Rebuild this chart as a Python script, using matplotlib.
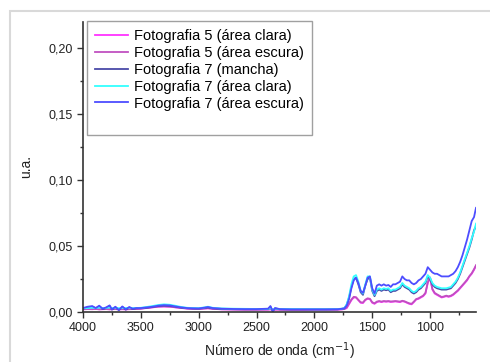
import numpy as np
import matplotlib
matplotlib.use("agg")
import matplotlib.pyplot as plt
from matplotlib.patches import Rectangle
from matplotlib.ticker import MultipleLocator, FuncFormatter

plt.rcParams['font.family'] = ['Liberation Sans', 'DejaVu Sans']

# wavenumber grids (cm-1)
wn_low = [4000, 3960, 3920, 3890, 3860, 3830, 3800, 3770, 3750, 3720,
          3690, 3660, 3630, 3600, 3570, 3540, 3500, 3450, 3400, 3350,
          3300, 3250, 3200, 3150, 3100, 3050, 3000, 2950, 2920, 2880,
          2800, 2700, 2600, 2500, 2400, 2380, 2360, 2340, 2300, 2200,
          2100, 2000, 1900, 1800, 1760]
wn_high = [1740, 1720, 1700, 1680, 1660, 1640, 1620, 1600, 1580, 1560,
           1540, 1520, 1500, 1480, 1460, 1440, 1420, 1400, 1380, 1360,
           1340, 1320, 1300, 1280, 1260, 1240, 1220, 1200, 1180, 1160,
           1140, 1120, 1100, 1080, 1060, 1040, 1020, 1000, 980, 960,
           940, 920, 900, 880, 860, 840, 820, 800, 780, 760,
           740, 720, 700, 680, 660, 640, 620, 603]

# Fotografia 5 (area clara)
f5c_low = [0.0020, 0.0022, 0.0021, 0.0023, 0.0020, 0.0021, 0.0022, 0.0020, 0.0021, 0.0022,
           0.0020, 0.0021, 0.0020, 0.0021, 0.0022, 0.0023, 0.0025, 0.0030, 0.0035, 0.0040,
           0.0042, 0.0040, 0.0035, 0.0030, 0.0026, 0.0024, 0.0023, 0.0026, 0.0028, 0.0024,
           0.0020, 0.0019, 0.0018, 0.0018, 0.0018, 0.0020, 0.0016, 0.0018, 0.0018, 0.0017,
           0.0017, 0.0017, 0.0017, 0.0018, 0.0020]
f5c_high = [0.0022, 0.0030, 0.0060, 0.0090, 0.0110, 0.0110, 0.0090, 0.0070, 0.0068, 0.0090,
            0.0100, 0.0098, 0.0070, 0.0062, 0.0075, 0.0080, 0.0075, 0.0080, 0.0078, 0.0080,
            0.0076, 0.0078, 0.0080, 0.0078, 0.0075, 0.0082, 0.0078, 0.0070, 0.0062, 0.0058,
            0.0075, 0.0095, 0.0100, 0.0110, 0.0120, 0.0140, 0.0220, 0.0260, 0.0170, 0.0140,
            0.0130, 0.0120, 0.0110, 0.0115, 0.0120, 0.0115, 0.0120, 0.0130, 0.0145, 0.0160,
            0.0180, 0.0200, 0.0220, 0.0240, 0.0270, 0.0290, 0.0320, 0.0350]

# Fotografia 5 (area escura)
f5e_low = [0.0022, 0.0023, 0.0022, 0.0024, 0.0021, 0.0022, 0.0023, 0.0021, 0.0022, 0.0023,
           0.0021, 0.0022, 0.0021, 0.0022, 0.0023, 0.0024, 0.0026, 0.0031, 0.0036, 0.0041,
           0.0043, 0.0041, 0.0036, 0.0031, 0.0027, 0.0025, 0.0024, 0.0027, 0.0029, 0.0025,
           0.0021, 0.0020, 0.0019, 0.0019, 0.0019, 0.0021, 0.0017, 0.0019, 0.0019, 0.0018,
           0.0018, 0.0018, 0.0018, 0.0019, 0.0021]
f5e_high = [0.0024, 0.0035, 0.0065, 0.0095, 0.0115, 0.0112, 0.0092, 0.0074, 0.0072, 0.0093,
            0.0104, 0.0100, 0.0074, 0.0066, 0.0079, 0.0083, 0.0079, 0.0083, 0.0081, 0.0083,
            0.0080, 0.0081, 0.0083, 0.0081, 0.0079, 0.0085, 0.0081, 0.0073, 0.0066, 0.0062,
            0.0079, 0.0098, 0.0104, 0.0114, 0.0124, 0.0145, 0.0225, 0.0262, 0.0175, 0.0145,
            0.0134, 0.0124, 0.0114, 0.0118, 0.0124, 0.0119, 0.0124, 0.0134, 0.0149, 0.0164,
            0.0184, 0.0204, 0.0224, 0.0245, 0.0272, 0.0294, 0.0325, 0.0355]

# Fotografia 7 (mancha)
f7m_low = [0.0025, 0.0035, 0.0040, 0.0028, 0.0042, 0.0022, 0.0030, 0.0045, 0.0018, 0.0035,
           0.0015, 0.0038, 0.0018, 0.0033, 0.0022, 0.0027, 0.0028, 0.0032, 0.0038, 0.0045,
           0.0048, 0.0046, 0.0040, 0.0033, 0.0028, 0.0026, 0.0025, 0.0030, 0.0034, 0.0027,
           0.0023, 0.0021, 0.0020, 0.0020, 0.0022, 0.0040, 0.0008, 0.0027, 0.0020, 0.0019,
           0.0019, 0.0019, 0.0019, 0.0020, 0.0024]
f7m_high = [0.0028, 0.0055, 0.0110, 0.0190, 0.0250, 0.0260, 0.0210, 0.0150, 0.0130, 0.0200,
            0.0250, 0.0260, 0.0160, 0.0120, 0.0160, 0.0170, 0.0160, 0.0170, 0.0165, 0.0170,
            0.0150, 0.0160, 0.0160, 0.0170, 0.0180, 0.0210, 0.0190, 0.0180, 0.0170, 0.0150,
            0.0140, 0.0150, 0.0170, 0.0180, 0.0200, 0.0220, 0.0270, 0.0250, 0.0210, 0.0190,
            0.0180, 0.0175, 0.0170, 0.0170, 0.0170, 0.0175, 0.0180, 0.0200, 0.0220, 0.0250,
            0.0290, 0.0340, 0.0390, 0.0440, 0.0490, 0.0550, 0.0620, 0.0650]

# Fotografia 7 (area clara)
f7c_low = [0.0028, 0.0030, 0.0032, 0.0030, 0.0033, 0.0030, 0.0031, 0.0034, 0.0030, 0.0032,
           0.0029, 0.0031, 0.0030, 0.0031, 0.0030, 0.0030, 0.0032, 0.0038, 0.0045, 0.0053,
           0.0058, 0.0055, 0.0047, 0.0038, 0.0032, 0.0030, 0.0029, 0.0035, 0.0040, 0.0032,
           0.0027, 0.0025, 0.0024, 0.0023, 0.0024, 0.0028, 0.0018, 0.0026, 0.0023, 0.0022,
           0.0022, 0.0021, 0.0021, 0.0022, 0.0026]
f7c_high = [0.0030, 0.0060, 0.0120, 0.0210, 0.0270, 0.0280, 0.0230, 0.0160, 0.0140, 0.0210,
            0.0270, 0.0270, 0.0170, 0.0130, 0.0170, 0.0180, 0.0170, 0.0180, 0.0175, 0.0180,
            0.0160, 0.0170, 0.0170, 0.0180, 0.0190, 0.0220, 0.0200, 0.0190, 0.0180, 0.0160,
            0.0150, 0.0160, 0.0180, 0.0190, 0.0210, 0.0230, 0.0280, 0.0260, 0.0220, 0.0200,
            0.0190, 0.0185, 0.0180, 0.0180, 0.0180, 0.0185, 0.0190, 0.0210, 0.0230, 0.0260,
            0.0300, 0.0350, 0.0400, 0.0450, 0.0500, 0.0560, 0.0610, 0.0670]

# Fotografia 7 (area escura)
f7e_low = [0.0030, 0.0040, 0.0045, 0.0030, 0.0048, 0.0025, 0.0035, 0.0050, 0.0020, 0.0040,
           0.0015, 0.0042, 0.0020, 0.0038, 0.0025, 0.0030, 0.0030, 0.0035, 0.0040, 0.0048,
           0.0052, 0.0050, 0.0042, 0.0035, 0.0030, 0.0028, 0.0027, 0.0033, 0.0038, 0.0030,
           0.0025, 0.0023, 0.0022, 0.0022, 0.0025, 0.0045, 0.0005, 0.0030, 0.0022, 0.0020,
           0.0020, 0.0020, 0.0020, 0.0021, 0.0025]
f7e_high = [0.0028, 0.0050, 0.0100, 0.0180, 0.0240, 0.0260, 0.0220, 0.0160, 0.0145, 0.0200,
            0.0260, 0.0270, 0.0180, 0.0140, 0.0200, 0.0210, 0.0200, 0.0210, 0.0200, 0.0205,
            0.0190, 0.0210, 0.0210, 0.0220, 0.0230, 0.0270, 0.0250, 0.0240, 0.0240, 0.0220,
            0.0210, 0.0220, 0.0240, 0.0250, 0.0270, 0.0290, 0.0340, 0.0320, 0.0300, 0.0290,
            0.0290, 0.0280, 0.0270, 0.0270, 0.0270, 0.0270, 0.0280, 0.0290, 0.0310, 0.0340,
            0.0380, 0.0430, 0.0490, 0.0550, 0.0620, 0.0690, 0.0720, 0.0790]

labels = ['Fotografia 5 (área clara)', 'Fotografia 5 (área escura)',
          'Fotografia 7 (mancha)', 'Fotografia 7 (área clara)',
          'Fotografia 7 (área escura)']
colors = ['#ff33ff', '#c050c0', '#4a4aa8', '#33ffff', '#4d4dff']
series = [(f5c_low, f5c_high), (f5e_low, f5e_high), (f7m_low, f7m_high),
          (f7c_low, f7c_high), (f7e_low, f7e_high)]

fig = plt.figure(figsize=(4.9, 3.62), dpi=100)
ax = fig.add_axes([83/490, 1-312/362, 393/490, 290/362])

wn = wn_low + wn_high
for (lo, hi), c, lab in zip(series, colors, labels):
    ax.plot(wn, lo + hi, color=c, lw=1.3, label=lab)
# blank row to leave the extra room at the bottom of the legend box
ax.plot([], [], color='none', label=' ')

ax.set_xlim(4000, 603)
ax.set_ylim(0, 0.22)
ax.xaxis.set_minor_locator(MultipleLocator(250))
ax.yaxis.set_major_locator(MultipleLocator(0.05))
ax.yaxis.set_minor_locator(MultipleLocator(0.025))
ax.yaxis.set_major_formatter(FuncFormatter(lambda v, p: f'{v:.2f}'.replace('.', ',')))
ax.set_xticks([4000, 3500, 3000, 2500, 2000, 1500, 1000])

for s in ['top', 'right']:
    ax.spines[s].set_visible(False)
for s in ['left', 'bottom']:
    ax.spines[s].set_color('#333333')
    ax.spines[s].set_linewidth(1.2)
ax.tick_params(which='major', direction='out', length=4, width=1, color='#333333',
               labelsize=9, labelcolor='#222222', pad=3.5)
ax.tick_params(which='minor', direction='out', length=2.5, width=1, color='#333333')

ax.set_xlabel('Número de onda (cm$^{-1}$)', fontsize=10, color='#222222', labelpad=4)
ax.set_ylabel('u.a.', fontsize=10, color='#222222', labelpad=11)

leg = ax.legend(loc='upper left', bbox_to_anchor=(0.01, 1.004), borderaxespad=0,
                fontsize=10.5, frameon=True, fancybox=False, handlelength=2.3,
                handletextpad=0.4, labelspacing=0.2, borderpad=0.55)
leg.get_frame().set_edgecolor('#888888')
leg.get_frame().set_linewidth(1)

# light grey border of the original image
fig.add_artist(Rectangle((10/490, -0.1), 1.2, 1 - 11/362 + 0.1, transform=fig.transFigure,
                         fill=False, edgecolor='#d9d9d9', lw=1.5))

fig.savefig('out.png', dpi=100)
